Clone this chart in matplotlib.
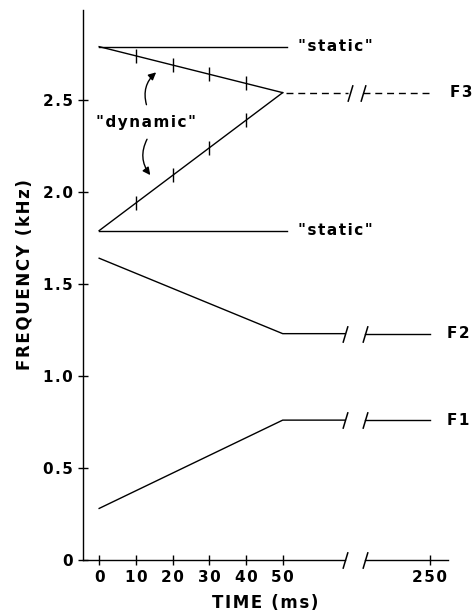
import numpy as np
import matplotlib.pyplot as plt

plt.rcParams['font.family'] = ['DejaVu Sans']
plt.rcParams['font.weight'] = 'bold'
plt.rcParams['axes.labelweight'] = 'bold'

# Formant tracks: time (ms) vs frequency (kHz)
time_pts = [0, 50, 250]
f1_khz = [0.28, 0.76, 0.76]
f2_khz = [1.64, 1.23, 1.23]
f3_end_khz = 2.54
f3_hi_khz = 2.79
f3_lo_khz = 1.79
static_end_ms = 56
mark_times = [10, 20, 30, 40]
x_ticks = [0, 10, 20, 30, 40, 50, 250]
x_tick_labels = ['0', '10', '20', '30', '40', '50', '250']
y_ticks = [0, 0.5, 1.0, 1.5, 2.0, 2.5]
y_tick_labels = ['0', '0.5', '1.0', '1.5', '2.0', '2.5']
break_ms = (135, 162)


# compressed time axis after 50 ms
def fwd(t):
    t = np.asarray(t, dtype=float)
    return np.where(t <= 50, t, 50 + (t - 50) * 0.2)


def inv(x):
    x = np.asarray(x, dtype=float)
    return np.where(x <= 50, x, 50 + (x - 50) / 0.2)


def tracked(s):
    # the original lettering is widely spaced
    return '\u200a'.join(s)


slash = [(-0.3, -1), (0.3, 1)]

fig = plt.figure(figsize=(4.77, 6.16), dpi=100)
ax = fig.add_axes([0.174, 0.091, 0.765, 0.893])
ax.set_xscale('function', functions=(fwd, inv))
ax.set_xlim(-4.4, 275)
ax.set_ylim(0, 2.99)

lw = 1.0
# F1 and F2 with broken flat part
for vals in (f1_khz, f2_khz):
    ax.plot([time_pts[0], time_pts[1], break_ms[0]], [vals[0], vals[1], vals[1]], color='k', lw=lw)
    ax.plot([break_ms[1], time_pts[2]], [vals[2], vals[2]], color='k', lw=lw)
    ax.plot(break_ms, [vals[1], vals[1]], ls='none', marker=slash, ms=12, mew=1.1, color='k')

# F3 static
ax.plot([0, static_end_ms], [f3_hi_khz, f3_hi_khz], color='k', lw=lw)
ax.plot([0, static_end_ms], [f3_lo_khz, f3_lo_khz], color='k', lw=lw)

# F3 dynamic
for start in (f3_hi_khz, f3_lo_khz):
    ax.plot([0, 50], [start, f3_end_khz], color='k', lw=lw)
    ys = np.interp(mark_times, [0, 50], [start, f3_end_khz])
    ax.plot(mark_times, ys, ls='none', marker='|', ms=10, mew=1.0, color='k')

# F3 steady (dashed) with break
ax.plot([55, break_ms[0] + 4], [f3_end_khz, f3_end_khz], color='k', lw=lw, ls=(0, (5, 3.5)))
ax.plot([break_ms[1] - 2, 255], [f3_end_khz, f3_end_khz], color='k', lw=lw, ls=(0, (5, 3.5)))
ax.plot([break_ms[0] + 6, break_ms[1] - 2], [f3_end_khz, f3_end_khz], ls='none',
        marker=slash, ms=12, mew=1.1, color='k')

# labels
fs = 11
ax.text(71, f3_hi_khz, tracked('"static"'), fontsize=fs, va='center', ha='left')
ax.text(71, f3_lo_khz, tracked('"static"'), fontsize=fs, va='center', ha='left')
ax.text(12.8, 2.38, tracked('"dynamic"'), fontsize=fs, va='center', ha='center')
ax.text(278, f3_end_khz, tracked('F3'), fontsize=fs, va='center', ha='left')
ax.text(274, f2_khz[2], tracked('F2'), fontsize=fs, va='center', ha='left')
ax.text(274, f1_khz[2], tracked('F1'), fontsize=fs, va='center', ha='left')

ax.annotate('', xy=(16.1, 2.66), xytext=(13.1, 2.46),
            arrowprops=dict(arrowstyle='-|>', connectionstyle='arc3,rad=-0.35',
                            color='k', lw=1, mutation_scale=11))
ax.annotate('', xy=(14.4, 2.08), xytext=(13.4, 2.30),
            arrowprops=dict(arrowstyle='-|>', connectionstyle='arc3,rad=0.35',
                            color='k', lw=1, mutation_scale=11))

# axes styling
for s in ('top', 'right', 'bottom'):
    ax.spines[s].set_visible(False)
ax.spines['left'].set_linewidth(1.0)
ax.plot([-4.4, break_ms[0]], [0, 0], color='k', lw=1.0, clip_on=False)
ax.plot([break_ms[1], 275], [0, 0], color='k', lw=1.0, clip_on=False)
ax.plot(break_ms, [0, 0], ls='none', marker=slash, ms=12, mew=1.1, color='k', clip_on=False)

ax.set_xticks(x_ticks)
ax.set_xticklabels([tracked(s) for s in x_tick_labels])
ax.set_yticks(y_ticks)
ax.set_yticklabels([tracked(s) for s in y_tick_labels])
ax.xaxis.set_minor_locator(plt.NullLocator())
ax.tick_params(direction='inout', length=7, width=1.0, labelsize=fs, pad=4)
ax.set_xlabel(tracked('TIME (ms)'), fontsize=12, labelpad=6)
ax.set_ylabel(tracked('FREQUENCY (kHz)'), fontsize=12)
ax.yaxis.set_label_coords(-0.135, 0.518)

fig.savefig('out.png', dpi=100)
